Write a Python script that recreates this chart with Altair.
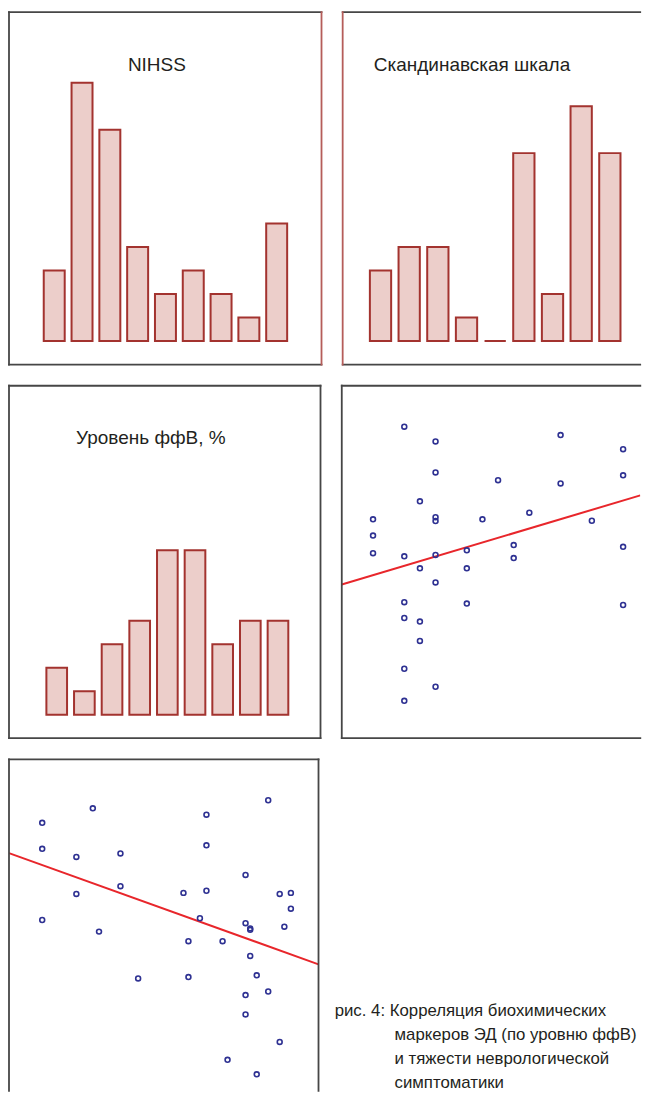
import altair as alt
import pandas as pd

# ---------------- data ----------------
bins = [1, 2, 3, 4, 5, 6, 7, 8, 9]
nihss_counts = [3, 11, 9, 4, 2, 3, 2, 1, 5]
scand_counts = [3, 4, 4, 1, 0, 8, 2, 10, 8]
ffv_counts = [2, 1, 3, 4, 7, 7, 3, 4, 4]

titles = ["NIHSS", "Скандинавская шкала", "Уровень ффВ, %"]

# scatter 1 (middle right)
sc1_x = [4, 6, 6, 5, 2, 2, 2, 4, 6, 6, 6, 5, 6, 4, 4, 5, 5, 4, 6, 4,
         9, 8, 8, 8, 10, 11, 11, 12, 14, 14, 16, 18, 18, 18, 18]
sc1_y = [88.4, 84.2, 75.4, 67.2, 62.1, 57.5, 52.5, 51.6, 62.7, 61.6,
         52.0, 48.2, 44.2, 38.6, 34.1, 33.1, 27.6, 19.7, 14.6, 10.6,
         62.1, 53.3, 48.2, 38.2, 73.2, 54.8, 51.1, 64.0, 86.0, 72.3,
         61.7, 82.0, 74.6, 54.3, 37.8]
sc1_line_x = [0, 19.1]
sc1_line_y = [43.6, 68.9]

# scatter 2 (bottom left)
sc2_x = [11.0, 11.0, 11.0, 27.3, 22.0, 22.0, 29.3, 36.2, 36.2, 41.9,
         56.5, 58.1, 58.1, 61.8, 63.9, 63.9, 63.9, 69.1, 70.7, 76.5,
         76.5, 78.0, 78.0, 78.0, 76.5, 76.5, 80.1, 80.1, 83.8, 83.8,
         87.5, 91.1, 91.1, 89.0, 87.5]
sc2_y = [82.0, 74.6, 54.4, 86.1, 72.3, 61.8, 51.1, 73.3, 64.0, 37.8,
         62.1, 48.4, 38.2, 54.9, 84.3, 75.6, 62.7, 48.4, 14.7, 67.2,
         53.5, 52.0, 51.6, 44.2, 33.1, 27.6, 38.7, 10.6, 88.4, 34.1,
         61.8, 62.1, 57.6, 52.5, 19.8]
sc2_line_x = [0.3, 100]
sc2_line_y = [73.4, 41.8]

caption_first = "рис. 4: Корреляция биохимических"
caption_rest = ["маркеров ЭД (по уровню ффВ)", "и тяжести неврологической", "симптоматики"]

# ---------------- styles ----------------
BAR_FILL = "#ecceca"
BAR_STROKE = "#a3332f"
RED_EDGE = "#b55d5a"
FRAME = "#464646"
PT_COLOR = "#2e3192"
LINE_COLOR = "#e8262b"
TITLE_FONT = "Liberation Sans"
CAP_FONT = "Liberation Sans"
HB = 0.9  # half frame thickness

_one = pd.DataFrame({"k": [0]})


def frame(W, H, top=True, bottom=True, left=True, right=True,
          red_left=False, red_right=False):
    layers = []

    def rect(x1, x2, y1, y2, color):
        return alt.Chart(_one).mark_rect(fill=color, stroke="transparent",
                                         strokeWidth=0).encode(
            x=alt.value(x1), x2=alt.value(x2), y=alt.value(y1), y2=alt.value(y2))

    if top:
        layers.append(rect(-HB, W + HB, -HB, HB, FRAME))
    if bottom:
        layers.append(rect(-HB, W + HB, H - HB, H + HB, FRAME))
    if left:
        layers.append(rect(-HB, HB, -HB, H + HB, RED_EDGE if red_left else FRAME))
    if right:
        layers.append(rect(W - HB, W + HB, -HB, H + HB, RED_EDGE if red_right else FRAME))
    return layers


def bar_panel(counts, title, W, H, pi, rng, tx, talign, frame_layers):
    df = pd.DataFrame({"bin": bins, "count": counts})
    bars = alt.Chart(df).mark_bar(
        fill=BAR_FILL, stroke=BAR_STROKE, strokeWidth=2, opacity=1
    ).encode(
        x=alt.X("bin:O", axis=None, sort=None,
                scale=alt.Scale(paddingInner=pi, paddingOuter=0, range=rng)),
        y=alt.Y("count:Q", axis=None,
                scale=alt.Scale(domain=[-1, 14], nice=False, zero=False)),
        y2=alt.datum(0),
    )
    ttl = alt.Chart(pd.DataFrame({"t": [title]})).mark_text(
        font=TITLE_FONT, fontSize=19, color="#231f20", align=talign,
        baseline="alphabetic"
    ).encode(text="t:N", x=alt.value(tx), y=alt.value(58.8))
    return alt.layer(bars, ttl, *frame_layers).properties(width=W, height=H)


def scatter_panel(xs, ys, lx, ly, xdom, ydom, W, H, frame_layers):
    df = pd.DataFrame({"x": xs, "y": ys})
    ldf = pd.DataFrame({"x": lx, "y": ly})
    xs_ = alt.Scale(domain=xdom, nice=False, zero=False)
    ys_ = alt.Scale(domain=ydom, nice=False, zero=False)
    line = alt.Chart(ldf).mark_line(color=LINE_COLOR, strokeWidth=2, clip=True).encode(
        x=alt.X("x:Q", axis=None, scale=xs_),
        y=alt.Y("y:Q", axis=None, scale=ys_),
    )
    pts = alt.Chart(df).mark_point(
        shape="circle", filled=False, size=24, strokeWidth=1.6,
        color=PT_COLOR, opacity=1
    ).encode(
        x=alt.X("x:Q", axis=None, scale=xs_),
        y=alt.Y("y:Q", axis=None, scale=ys_),
    )
    return alt.layer(line, pts, *frame_layers).properties(width=W, height=H)


p1 = bar_panel(nihss_counts, titles[0], 313, 353, 0.246, [34.8, 278.6], 148.1, "center",
               frame(313, 353, red_right=True))
p2 = bar_panel(scand_counts, titles[1], 298, 353, 0.258, [27.25, 278.25], 31.2, "left",
               frame(298, 353, right=False, red_left=True))
p3 = bar_panel(ffv_counts, titles[2], 312, 353, 0.253, [37.45, 279.75], 142.1, "center",
               frame(312, 353))
p4 = scatter_panel(sc1_x, sc1_y, sc1_line_x, sc1_line_y, [0, 19.1], [0, 100], 299, 353,
                   frame(299, 353, right=False))
p5 = scatter_panel(sc2_x, sc2_y, sc2_line_x, sc2_line_y, [0.3, 100], [5.9, 100], 310, 332,
                   frame(310, 332, bottom=False))

cap1 = alt.Chart(pd.DataFrame({"t": [caption_first]})).mark_text(
    font=CAP_FONT, fontSize=16.8, color="#231f20", align="left", baseline="alphabetic"
).encode(text="t:N", x=alt.value(0), y=alt.value(257.2))
cap2 = alt.Chart(_one).mark_text(
    font=CAP_FONT, fontSize=16.8, color="#231f20", align="left", baseline="alphabetic",
    lineHeight=24
).encode(text=alt.value(caption_rest), x=alt.value(60), y=alt.value(281.2))
caption = alt.layer(cap1, cap2).properties(width=290, height=332)

row1 = alt.hconcat(p1, p2, spacing=19.2)
row2 = alt.hconcat(p3, p4, spacing=19.3)
row3 = alt.hconcat(p5, caption, spacing=15.2)

chart = alt.vconcat(row1, row2, row3, spacing=19.2).properties(
    padding={"left": 0, "top": 2.3, "right": 0, "bottom": 0},
    background="white",
).configure_view(stroke="transparent", strokeWidth=0)

chart.save("out.html", embed_options={"renderer": "svg", "actions": False})
